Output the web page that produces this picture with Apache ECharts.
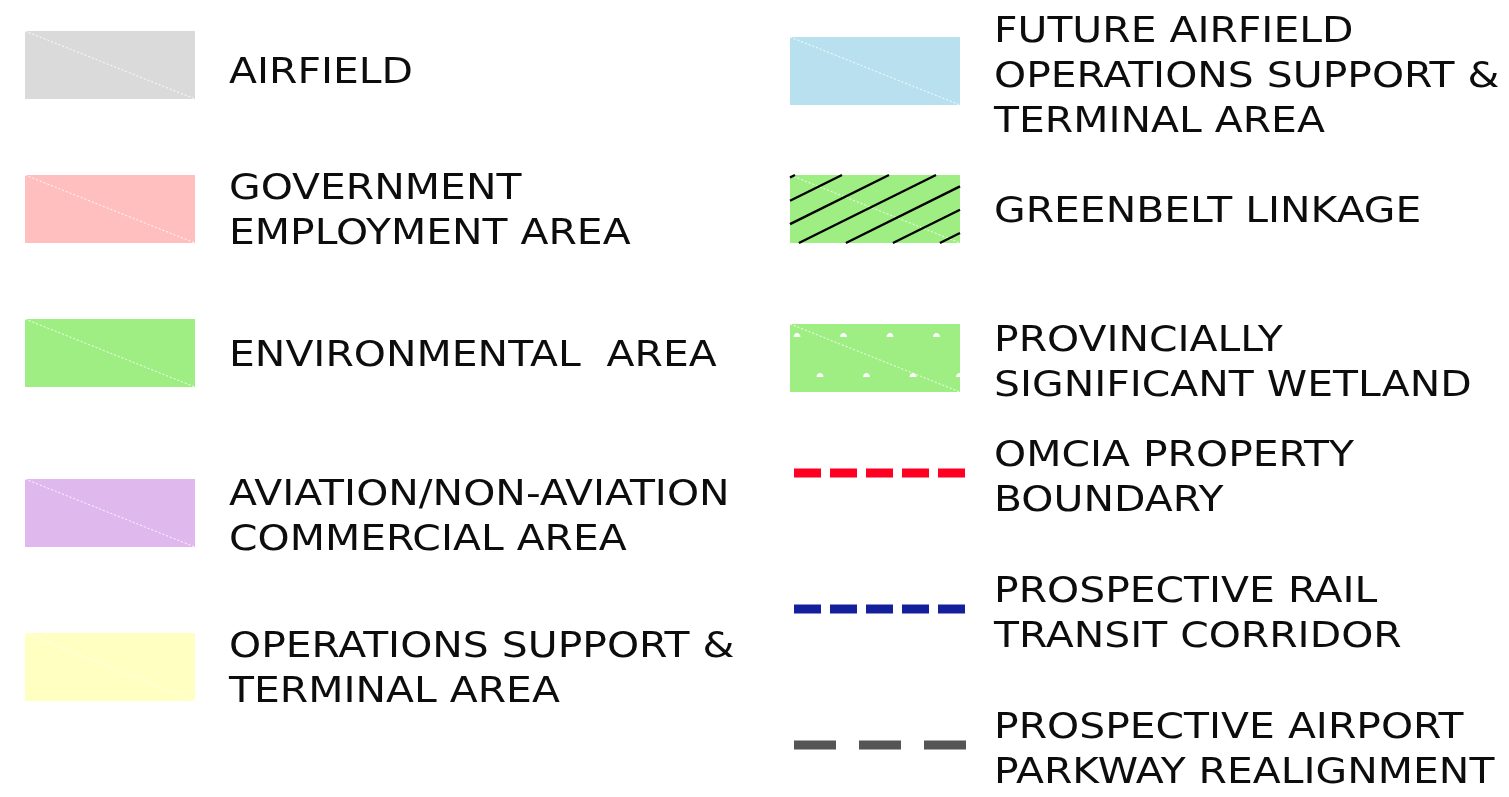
<!DOCTYPE html>
<html><head><meta charset="utf-8">
<script src="https://cdn.jsdelivr.net/npm/echarts@6/dist/echarts.min.js"></script>
<style>html,body{margin:0;padding:0;background:#fff}#c{width:1509px;height:797px}</style>
</head><body><div id="c"></div>
<script>
// ---- data ----
const leftLabels = [
  'AIRFIELD',
  'GOVERNMENT\nEMPLOYMENT AREA',
  'ENVIRONMENTAL  AREA',
  'AVIATION/NON-AVIATION\nCOMMERCIAL AREA',
  'OPERATIONS SUPPORT &\nTERMINAL AREA'
];
const leftKinds = ['swatch', 'swatch', 'swatch', 'swatch', 'swatch'];
const rightLabels = [
  'FUTURE AIRFIELD\nOPERATIONS SUPPORT &\nTERMINAL AREA',
  'GREENBELT LINKAGE',
  'PROVINCIALLY\nSIGNIFICANT WETLAND',
  'OMCIA PROPERTY\nBOUNDARY',
  'PROSPECTIVE RAIL\nTRANSIT CORRIDOR',
  'PROSPECTIVE AIRPORT\nPARKWAY REALIGNMENT'
];
const rightKinds = ['swatch', 'hatch', 'wetland', 'dash', 'dash', 'dash'];

// ---- styles / layout ----
const leftColors = ['#dadada', '#ffbfbf', '#9fee84', '#dfb8ee', '#ffffc2'];
const rightColors = ['#b8e0ee', '#9fee84', '#9fee84', '#ff0022', '#141f9c', '#555555'];
const leftDash = [null, null, null, null, null];
const rightDash = [null, null, null, [27, 9], [27, 9], [42, 23]];
const leftNudge = [0, -6.5, -13, -3.5, 0];
const rightNudge = [0, 3, 17, -3, -2, -1];
const leftTextNudge = [8.5, 3.5, 3.5, 5.5, 3.5];
const rightTextNudge = [6.5, 4, 6.5, 6.5, 6.5, 6.5];
const FONT = '36px "DejaVu Sans"';
const TEXT_SCALE_X = 1.135;
const SW = 170, SH = 68, TEXT_GAP = 204;

function makeRender(labels, kinds, colors, dashes, nudge, textNudge) {
  return function (params, api) {
    const i = api.value(1);
    const p = api.coord([0, i]);
    const cs = params.coordSys;
    const x = cs.x;
    const cy = p[1] + nudge[i];
    const kind = kinds[i];
    const children = [];
    const L = x, T = cy - SH / 2, R = x + SW, B = cy + SH / 2;
    if (kind === 'dash') {
      children.push({
        type: 'line',
        shape: { x1: x + 4, y1: cy, x2: x + 176, y2: cy },
        style: { stroke: colors[i], lineWidth: 9, lineDash: dashes[i], lineCap: 'butt' }
      });
    } else {
      children.push({ type: 'rect', shape: { x: L, y: T, width: SW, height: SH }, style: { fill: colors[i] } });
      children.push({
        type: 'line', shape: { x1: L, y1: T, x2: R, y2: B },
        style: { stroke: '#ffffff', lineWidth: 1, lineDash: [2, 2], opacity: 0.9 }
      });
      if (kind === 'hatch') {
        const s = 0.496, step = 47;
        for (let k = -1; k < 10; k++) {
          const xt = L + 5 + k * step;
          const t0 = Math.max(0, xt - R);
          const t1 = Math.min((B - T) / s, xt - L);
          if (t1 <= t0) continue;
          children.push({
            type: 'line',
            shape: { x1: xt - t0, y1: T + s * t0, x2: xt - t1, y2: T + s * t1 },
            style: { stroke: '#000', lineWidth: 2.4 }
          });
        }
      }
      if (kind === 'wetland') {
        const rows = [[T + 13, 7], [T + 53, 30]];
        rows.forEach(([by, off]) => {
          for (let bx = L + off; bx < R; bx += 46.5) {
            const pts = [];
            for (let a = 0; a <= 8; a++) {
              const ang = Math.PI * a / 8;
              const px = Math.min(bx + Math.cos(Math.PI - ang) * 3.4, R);
              pts.push([px, by - Math.sin(ang) * 4]);
            }
            children.push({ type: 'polygon', shape: { points: pts }, style: { fill: '#ffffff' } });
          }
        });
      }
    }
    children.push({
      type: 'text',
      x: x + TEXT_GAP,
      y: cy + textNudge[i],
      scaleX: TEXT_SCALE_X,
      style: {
        text: labels[i], x: 0, y: 0,
        verticalAlign: 'middle', align: 'left', font: FONT, fill: '#0d0d0d', lineHeight: 45
      }
    });
    return { type: 'group', children };
  };
}

const chart = echarts.init(document.getElementById('c'), null, { renderer: 'canvas' });
chart.setOption({
  backgroundColor: '#ffffff',
  animation: false,
  grid: [
    { left: 25, top: 65, width: 700, height: 602 },
    { left: 790, top: 71, width: 700, height: 675 }
  ],
  xAxis: [
    { gridIndex: 0, type: 'value', min: 0, max: 1, show: false },
    { gridIndex: 1, type: 'value', min: 0, max: 1, show: false }
  ],
  yAxis: [
    { gridIndex: 0, type: 'category', data: leftLabels.map((_, i) => i), inverse: true, boundaryGap: false, show: false },
    { gridIndex: 1, type: 'category', data: rightLabels.map((_, i) => i), inverse: true, boundaryGap: false, show: false }
  ],
  series: [
    {
      type: 'custom', xAxisIndex: 0, yAxisIndex: 0, clip: false,
      renderItem: makeRender(leftLabels, leftKinds, leftColors, leftDash, leftNudge, leftTextNudge),
      data: leftLabels.map((_, i) => [0, i])
    },
    {
      type: 'custom', xAxisIndex: 1, yAxisIndex: 1, clip: false,
      renderItem: makeRender(rightLabels, rightKinds, rightColors, rightDash, rightNudge, rightTextNudge),
      data: rightLabels.map((_, i) => [0, i])
    }
  ]
});
</script>
</body></html>
